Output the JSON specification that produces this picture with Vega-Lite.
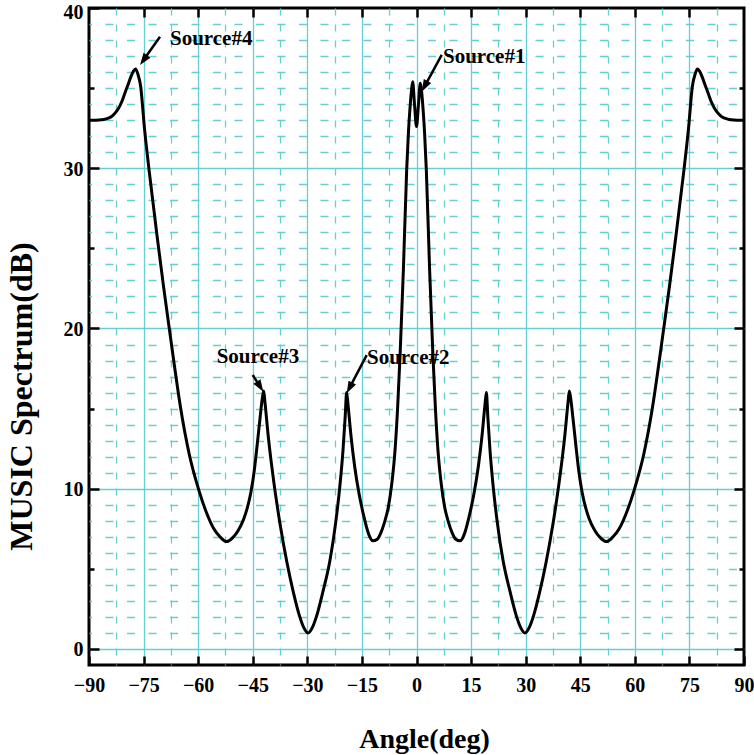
{
  "$schema": "https://vega.github.io/schema/vega-lite/v6.json",
  "width": 655,
  "height": 657,
  "autosize": {"type": "none"},
  "padding": {"left": 89, "top": 8, "right": 10, "bottom": 90},
  "background": "white",
  "config": {"view": {"stroke": "black", "strokeWidth": 3}},
  "datasets": {
    "spectrum": [
      {"a": -90, "s": 33.0}, {"a": -88, "s": 33.0}, {"a": -86.5, "s": 33.02}, {"a": -85.3, "s": 33.08},
      {"a": -84, "s": 33.2}, {"a": -83, "s": 33.4}, {"a": -82, "s": 33.7}, {"a": -81, "s": 34.15},
      {"a": -80.2, "s": 34.65}, {"a": -79.3, "s": 35.2}, {"a": -78.5, "s": 35.7}, {"a": -77.8, "s": 36.05},
      {"a": -77.2, "s": 36.2}, {"a": -76.6, "s": 35.9}, {"a": -75.8, "s": 35.1}, {"a": -74.8, "s": 32.6},
      {"a": -73.5, "s": 29.9}, {"a": -71.2, "s": 25.6}, {"a": -69.5, "s": 22.6}, {"a": -68.0, "s": 20.1},
      {"a": -66.6, "s": 17.8}, {"a": -64.8, "s": 15.0}, {"a": -62.5, "s": 12.2}, {"a": -59.8, "s": 9.9},
      {"a": -57.7, "s": 8.5}, {"a": -55.7, "s": 7.5}, {"a": -54.0, "s": 7.0}, {"a": -52.2, "s": 6.7},
      {"a": -50.5, "s": 6.95}, {"a": -49.0, "s": 7.4}, {"a": -47.5, "s": 8.1}, {"a": -46.5, "s": 8.8},
      {"a": -45.5, "s": 9.8}, {"a": -44.6, "s": 11.1}, {"a": -43.8, "s": 12.7}, {"a": -43.0, "s": 14.4},
      {"a": -42.4, "s": 15.6}, {"a": -42.0, "s": 16.1}, {"a": -41.6, "s": 15.3}, {"a": -40.8, "s": 13.4},
      {"a": -40.0, "s": 11.8}, {"a": -39.2, "s": 10.4}, {"a": -37.5, "s": 7.8}, {"a": -35.6, "s": 5.4},
      {"a": -33.8, "s": 3.5}, {"a": -32.2, "s": 2.1}, {"a": -31.0, "s": 1.35}, {"a": -29.8, "s": 1.0},
      {"a": -28.6, "s": 1.35}, {"a": -27.4, "s": 2.1}, {"a": -25.8, "s": 3.5}, {"a": -23.8, "s": 5.5},
      {"a": -22.2, "s": 7.9}, {"a": -21.0, "s": 10.3}, {"a": -20.2, "s": 12.4}, {"a": -19.6, "s": 14.5},
      {"a": -19.2, "s": 16.0}, {"a": -18.8, "s": 15.2}, {"a": -18.0, "s": 13.3}, {"a": -17.0, "s": 11.4},
      {"a": -15.8, "s": 9.7}, {"a": -14.6, "s": 8.4}, {"a": -13.2, "s": 7.2}, {"a": -12.0, "s": 6.75},
      {"a": -10.8, "s": 6.85}, {"a": -9.8, "s": 7.25}, {"a": -8.8, "s": 7.9}, {"a": -7.7, "s": 8.9},
      {"a": -6.8, "s": 10.3}, {"a": -5.9, "s": 12.4}, {"a": -5.2, "s": 15.0}, {"a": -4.5, "s": 18.4},
      {"a": -3.6, "s": 23.7}, {"a": -2.7, "s": 29.9}, {"a": -2.2, "s": 32.3}, {"a": -1.8, "s": 33.7},
      {"a": -1.4, "s": 34.8}, {"a": -1.05, "s": 35.4}, {"a": -0.55, "s": 34.0}, {"a": 0, "s": 32.6},
      {"a": 0.55, "s": 34.0}, {"a": 1.05, "s": 35.3}, {"a": 1.4, "s": 34.8}, {"a": 1.8, "s": 33.7},
      {"a": 2.2, "s": 32.3}, {"a": 2.7, "s": 29.9}, {"a": 3.6, "s": 23.7}, {"a": 4.5, "s": 18.4},
      {"a": 5.2, "s": 15.0}, {"a": 5.9, "s": 12.4}, {"a": 6.8, "s": 10.3}, {"a": 7.7, "s": 8.9},
      {"a": 8.8, "s": 7.9}, {"a": 9.8, "s": 7.25}, {"a": 10.8, "s": 6.85}, {"a": 12.0, "s": 6.75},
      {"a": 13.2, "s": 7.2}, {"a": 14.6, "s": 8.4}, {"a": 15.8, "s": 9.7}, {"a": 17.0, "s": 11.4},
      {"a": 18.0, "s": 13.3}, {"a": 18.8, "s": 15.2}, {"a": 19.2, "s": 16.0}, {"a": 19.6, "s": 14.5},
      {"a": 20.2, "s": 12.4}, {"a": 21.0, "s": 10.3}, {"a": 22.2, "s": 7.9}, {"a": 23.8, "s": 5.5},
      {"a": 25.8, "s": 3.5}, {"a": 27.4, "s": 2.1}, {"a": 28.6, "s": 1.35}, {"a": 29.8, "s": 1.0},
      {"a": 31.0, "s": 1.35}, {"a": 32.2, "s": 2.1}, {"a": 33.8, "s": 3.5}, {"a": 35.6, "s": 5.4},
      {"a": 37.5, "s": 7.8}, {"a": 39.2, "s": 10.4}, {"a": 40.0, "s": 11.8}, {"a": 40.8, "s": 13.4},
      {"a": 41.6, "s": 15.3}, {"a": 42.0, "s": 16.1}, {"a": 42.4, "s": 15.6}, {"a": 43.0, "s": 14.4},
      {"a": 43.8, "s": 12.7}, {"a": 44.6, "s": 11.1}, {"a": 45.5, "s": 9.8}, {"a": 46.5, "s": 8.8},
      {"a": 47.5, "s": 8.1}, {"a": 49.0, "s": 7.4}, {"a": 50.5, "s": 6.95}, {"a": 52.2, "s": 6.7},
      {"a": 54.0, "s": 7.0}, {"a": 55.7, "s": 7.5}, {"a": 57.7, "s": 8.5}, {"a": 59.8, "s": 9.9},
      {"a": 62.5, "s": 12.2}, {"a": 64.8, "s": 15.0}, {"a": 66.6, "s": 17.8}, {"a": 68.0, "s": 20.1},
      {"a": 69.5, "s": 22.6}, {"a": 71.2, "s": 25.6}, {"a": 73.5, "s": 29.9}, {"a": 74.8, "s": 32.6},
      {"a": 75.8, "s": 35.1}, {"a": 76.6, "s": 35.9}, {"a": 77.2, "s": 36.2}, {"a": 77.8, "s": 36.05},
      {"a": 78.5, "s": 35.7}, {"a": 79.3, "s": 35.2}, {"a": 80.2, "s": 34.65}, {"a": 81, "s": 34.15},
      {"a": 82, "s": 33.7}, {"a": 83, "s": 33.4}, {"a": 84, "s": 33.2}, {"a": 85.3, "s": 33.08},
      {"a": 86.5, "s": 33.02}, {"a": 88, "s": 33.0}, {"a": 90, "s": 33.0}
    ],
    "notes": [
      {"label": "Source#4", "x": -67.74, "y": 38.07},
      {"label": "Source#1", "x": 7.28, "y": 36.94},
      {"label": "Source#3", "x": -54.91, "y": 18.24},
      {"label": "Source#2", "x": -13.6, "y": 18.16}
    ],
    "arrows": [
      {"label": "Source#4", "x0": -70.49, "y0": 38.21, "x1": -75.02, "y1": 36.75, "dir": 215.5},
      {"label": "Source#1", "x0": 6.93, "y0": 37.07, "x1": 2.23, "y1": 35.11, "dir": 208.6},
      {"label": "Source#3", "x0": -45.01, "y0": 17.1, "x1": -42.98, "y1": 16.37, "dir": 147.6},
      {"label": "Source#2", "x0": -13.69, "y0": 18.34, "x1": -18.41, "y1": 16.29, "dir": 207.6}
    ]
  },
  "layer": [
    {
      "data": {"name": "spectrum"},
      "mark": {"type": "line", "color": "black", "strokeWidth": 3, "strokeJoin": "round", "interpolate": "monotone"},
      "encoding": {
        "x": {
          "field": "a", "type": "quantitative",
          "scale": {"domain": [-90, 90], "nice": false, "zero": false},
          "axis": {
            "orient": "bottom",
            "values": [-90, -82.5, -75, -67.5, -60, -52.5, -45, -37.5, -30, -22.5, -15, -7.5, 0, 7.5, 15, 22.5, 30, 37.5, 45, 52.5, 60, 67.5, 75, 82.5, 90],
            "title": "Angle(deg)",
            "titleFont": "Liberation Serif", "titleFontSize": 28, "titleFontWeight": "bold", "titleColor": "black",
            "titlePadding": 30, "titleX": 335,
            "labelFont": "Liberation Serif", "labelFontSize": 20, "labelFontWeight": "bold", "labelColor": "black",
            "labelPadding": 19, "labelFlush": false, "labelOverlap": false, "labelBound": false,
            "labelExpr": "datum.value % 15 === 0 ? datum.label : ''",
            "domain": false,
            "ticks": true, "tickSize": -9, "tickWidth": 2.5, "tickColor": "black",
            "tickOpacity": {"condition": {"test": "datum.value % 15 === 0", "value": 1}, "value": 0},
            "grid": true, "gridColor": "#66cfd4", "gridWidth": 1.3,
            "gridDash": {"condition": {"test": "datum.value % 15 === 0", "value": []}, "value": [7, 9]},
            "gridOpacity": {"condition": {"test": "abs(datum.value) === 90", "value": 0}, "value": 1}
          }
        },
        "y": {
          "field": "s", "type": "quantitative",
          "scale": {"domain": [-1, 40], "nice": false, "zero": false},
          "axis": {
            "orient": "left",
            "values": [0, 1, 2, 3, 4, 5, 6, 7, 8, 9, 10, 11, 12, 13, 14, 15, 16, 17, 18, 19, 20, 21, 22, 23, 24, 25, 26, 27, 28, 29, 30, 31, 32, 33, 34, 35, 36, 37, 38, 39, 40],
            "title": "MUSIC Spectrum(dB)",
            "titleFont": "Liberation Serif", "titleFontSize": 32, "titleFontWeight": "bold", "titleColor": "black",
            "titlePadding": 25, "titleY": 388,
            "labelFont": "Liberation Serif", "labelFontSize": 20, "labelFontWeight": "bold", "labelColor": "black",
            "labelPadding": 16, "labelOverlap": false, "labelBound": false, "labelFlush": false,
            "labelOffset": {"condition": {"test": "datum.value === 40", "value": 4}, "value": 1},
            "labelExpr": "datum.value % 10 === 0 ? datum.label : ''",
            "domain": false,
            "ticks": true, "tickWidth": 2.5, "tickColor": "black",
            "tickSize": {"condition": {"test": "datum.value % 10 === 0", "value": -10}, "value": -5},
            "tickOpacity": {"condition": {"test": "datum.value % 5 === 0", "value": 1}, "value": 0},
            "grid": true, "gridColor": "#66cfd4", "gridWidth": 1.3,
            "gridDash": {"condition": {"test": "datum.value % 10 === 0", "value": []}, "value": [8, 13.5]},
            "gridDashOffset": 5.5,
            "gridOpacity": {"condition": {"test": "datum.value === 40", "value": 0}, "value": 1}
          }
        }
      }
    },
    {
      "data": {"name": "notes"},
      "mark": {"type": "text", "align": "left", "baseline": "middle", "font": "Liberation Serif", "fontSize": 21, "fontWeight": "bold", "color": "black"},
      "encoding": {
        "x": {
          "field": "x", "type": "quantitative",
          "scale": {"domain": [-90, 90], "nice": false, "zero": false},
          "axis": {
            "orient": "top", "title": null,
            "values": [-75, -60, -45, -30, -15, 0, 15, 30, 45, 60, 75],
            "labels": false, "grid": false, "domain": false,
            "ticks": true, "tickSize": -9, "tickWidth": 2.5, "tickColor": "black"
          }
        },
        "y": {
          "field": "y", "type": "quantitative",
          "scale": {"domain": [-1, 40], "nice": false, "zero": false},
          "axis": {
            "orient": "right", "title": null,
            "values": [0, 5, 10, 15, 20, 25, 30, 35],
            "labels": false, "grid": false, "domain": false,
            "ticks": true, "tickWidth": 2.5, "tickColor": "black",
            "tickSize": {"condition": {"test": "datum.value % 10 === 0", "value": -10}, "value": -5}
          }
        },
        "text": {"field": "label"}
      }
    },
    {
      "data": {"name": "arrows"},
      "mark": {"type": "rule", "color": "black", "strokeWidth": 2.5},
      "encoding": {
        "x": {"field": "x0", "type": "quantitative", "scale": {"domain": [-90, 90], "nice": false, "zero": false}, "axis": null},
        "y": {"field": "y0", "type": "quantitative", "scale": {"domain": [-1, 40], "nice": false, "zero": false}, "axis": null},
        "x2": {"field": "x1"},
        "y2": {"field": "y1"}
      }
    },
    {
      "data": {"name": "arrows"},
      "mark": {"type": "point", "shape": "M0,-1L0.7,1L-0.7,1Z", "filled": true, "color": "black", "opacity": 1, "size": 144, "strokeWidth": 0},
      "encoding": {
        "x": {"field": "x1", "type": "quantitative", "scale": {"domain": [-90, 90], "nice": false, "zero": false}, "axis": null},
        "y": {"field": "y1", "type": "quantitative", "scale": {"domain": [-1, 40], "nice": false, "zero": false}, "axis": null},
        "angle": {"field": "dir", "type": "quantitative", "scale": null}
      }
    }
  ],
  "resolve": {"axis": {"x": "independent", "y": "independent"}}
}
